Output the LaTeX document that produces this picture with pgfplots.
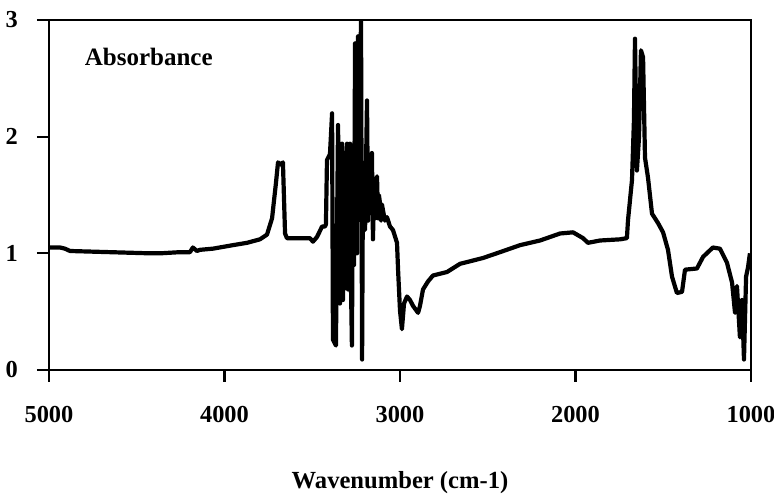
\documentclass[border=0pt]{standalone}
\usepackage{pgfplots}
\pgfplotsset{compat=1.18}
\usepackage{fontspec}
\setmainfont{Liberation Serif}
\begin{document}
\begin{tikzpicture}
\useasboundingbox (-24.5pt,-65.5pt) rectangle (362.5pt,185pt);
\begin{axis}[
  scale only axis,
  width=351pt, height=175pt,
  xmin=1000, xmax=5000, x dir=reverse,
  ymin=0, ymax=3,
  xtick={1000,2000,3000,4000,5000},
  ytick={0,1,2,3},
  tick pos=left,
  tick align=outside,
  major tick length=6pt,
  axis line style={line width=1.2pt},
  every tick/.style={line width=1.1pt, black},
  /pgf/number format/1000 sep={},
  /pgf/number format/assume math mode=true,
  tick label style={font=\fontsize{12.2}{14}\selectfont\bfseries},
  xticklabel style={yshift=-8.5pt},
  yticklabel style={xshift=-6pt},
  xlabel={Wavenumber (cm-1)},
  xlabel style={font=\fontsize{12.3}{14}\selectfont\bfseries, at={(axis description cs:0.5,0)}, anchor=center, yshift=-56.5pt},
]
\addplot[black, line width=2.1pt, line join=round] table {
5000 1.05
4937 1.05
4909 1.04
4880 1.02
4652 1.01
4424 1.00
4368 1.00
4254 1.01
4197 1.01
4180 1.05
4157 1.02
4140 1.03
4066 1.04
3952 1.07
3872 1.09
3798 1.12
3758 1.16
3729 1.30
3718 1.45
3707 1.60
3695 1.78
3678 1.76
3667 1.78
3655 1.17
3644 1.13
3570 1.13
3513 1.13
3496 1.10
3473 1.14
3444 1.23
3427 1.23
3422 1.25
3416 1.80
3399 1.85
3387 2.20
3382 0.26
3365 0.21
3353 2.10
3342 0.57
3336 1.60
3330 1.94
3325 0.60
3319 1.70
3313 0.70
3307 1.80
3302 1.94
3296 0.69
3290 1.85
3285 1.94
3280 0.80
3274 0.21
3268 1.66
3262 0.90
3256 2.80
3250 1.30
3245 1.00
3239 2.86
3228 2.40
3222 3.00
3216 0.09
3211 1.69
3205 1.30
3199 1.20
3188 2.31
3182 1.28
3176 1.80
3171 1.35
3165 1.60
3160 1.86
3154 1.12
3148 1.55
3142 1.30
3137 1.60
3131 1.66
3125 1.30
3120 1.50
3114 1.43
3108 1.28
3103 1.42
3097 1.37
3086 1.28
3074 1.31
3057 1.23
3040 1.20
3017 1.09
3011 0.86
3000 0.51
2989 0.35
2977 0.57
2960 0.63
2943 0.60
2926 0.55
2897 0.49
2886 0.55
2869 0.69
2840 0.76
2812 0.81
2732 0.84
2658 0.91
2527 0.96
2430 1.01
2316 1.07
2202 1.11
2088 1.17
2014 1.18
1957 1.13
1929 1.09
1860 1.11
1746 1.12
1707 1.13
1701 1.28
1678 1.63
1667 2.14
1661 2.84
1650 1.71
1638 2.00
1627 2.74
1615 2.68
1604 1.82
1587 1.65
1564 1.34
1530 1.26
1501 1.18
1473 1.03
1450 0.80
1422 0.66
1393 0.67
1376 0.86
1308 0.87
1273 0.97
1217 1.05
1177 1.04
1137 0.92
1108 0.75
1091 0.49
1080 0.72
1063 0.28
1051 0.60
1040 0.09
1028 0.80
1017 0.88
1006 1.00
};
\node[anchor=west, font=\fontsize{12.5}{14}\selectfont\bfseries] at (rel axis cs:0.041,0.894) {Absorbance};
\end{axis}
\end{tikzpicture}
\end{document}
